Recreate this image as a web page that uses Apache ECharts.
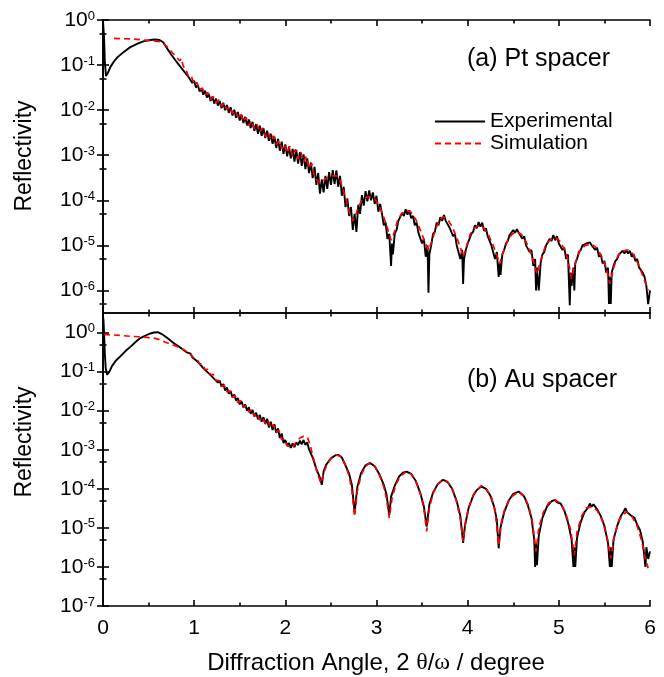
<!DOCTYPE html>
<html>
<head>
<meta charset="utf-8">
<script src="https://cdn.jsdelivr.net/npm/echarts@6/dist/echarts.min.js"></script>
<style>
html,body{margin:0;padding:0;background:#fff;}
#chart{width:664px;height:677px;}
</style>
</head>
<body>
<div id="chart"></div>
<script>
// ---------- DATA (angle in degrees, reflectivity) ----------
const xTicks = [0, 1, 2, 3, 4, 5, 6];
const xMinorTicks = [0.5, 1.5, 2.5, 3.5, 4.5, 5.5];
const yTicks = [1e-7, 1e-6, 1e-5, 1e-4, 1e-3, 1e-2, 1e-1, 1];
const yMinorTicks = [5e-8, 5e-7, 5e-6, 5e-5, 5e-4, 5e-3, 5e-2, 0.5];
const panelLabels = ['(a) Pt spacer', '(b) Au spacer'];
const seriesNames = ['Experimental', 'Simulation'];

// (a) Pt spacer, experimental
const expPt = [
[0,0.95],[0.005,0.9],[0.012,0.4],[0.02,0.12],[0.033,0.057],[0.05,0.065],[0.08,0.09],[0.12,0.12],[0.16,0.15],[0.22,0.19],[0.3,0.25],[0.38,0.3],[0.45,0.34],[0.52,0.36],[0.57,0.37],[0.62,0.36],[0.66,0.32],[0.7,0.24],[0.75,0.17],[0.8,0.123],[0.85,0.091],[0.9,0.068],[0.94,0.054],
[0.96,5.4e-2],[0.98,4.0e-2],[1.00,4.5e-2],[1.02,3.2e-2],[1.04,3.6e-2],[1.06,2.6e-2],[1.08,3.0e-2],[1.10,2.2e-2],[1.12,2.7e-2],[1.14,1.9e-2],[1.16,2.3e-2],[1.18,1.6e-2],[1.20,2.0e-2],[1.22,1.4e-2],[1.24,1.8e-2],[1.26,1.26e-2],[1.28,1.6e-2],[1.30,1.1e-2],[1.32,1.45e-2],[1.34,1.0e-2],[1.36,1.3e-2],[1.38,8.7e-3],[1.40,1.17e-2],[1.42,7.6e-3],[1.44,1.02e-2],[1.46,6.8e-3],[1.48,9.1e-3],[1.50,5.9e-3],[1.52,7.9e-3],[1.54,5.2e-3],[1.56,7.1e-3],[1.58,4.6e-3],[1.60,6.2e-3],[1.62,4.0e-3],[1.64,5.5e-3],[1.66,3.5e-3],[1.68,4.9e-3],[1.70,3.0e-3],[1.72,4.5e-3],[1.74,2.7e-3],[1.76,4.0e-3],[1.78,2.4e-3],[1.80,3.5e-3],[1.82,2.1e-3],[1.84,3.0e-3],[1.86,1.8e-3],[1.88,2.6e-3],[1.90,1.45e-3],[1.92,2.3e-3],[1.94,1.26e-3],[1.96,2.0e-3],[1.98,1.07e-3],[2.00,1.74e-3],[2.02,9.5e-4],[2.04,1.55e-3],[2.06,8.5e-4],[2.08,1.38e-3],[2.10,7.2e-4],[2.12,1.32e-3],[2.14,6.5e-4],[2.16,1.17e-3],[2.18,5.8e-4],[2.20,1.05e-3],[2.22,4.9e-4],[2.24,8.5e-4],[2.26,4.0e-4],[2.28,6.9e-4],[2.30,3.1e-4],[2.32,5.5e-4],[2.34,2.2e-4],[2.36,4.0e-4],[2.38,1.4e-4],[2.40,2.9e-4],[2.42,1.5e-4],[2.44,3.5e-4],[2.46,1.8e-4],[2.48,4.2e-4],[2.50,2.2e-4],[2.52,4.7e-4],[2.54,2.3e-4],[2.56,4.6e-4],[2.58,2.0e-4],[2.60,3.5e-4],[2.62,1.26e-4],[2.64,2.0e-4],[2.66,7.1e-5],[2.68,1.1e-4],[2.70,4.5e-5],[2.72,7.1e-5],[2.74,2.2e-5],[2.76,5.0e-5],[2.78,2.0e-5],[2.80,7.9e-5],[2.82,5.0e-5],[2.84,1.3e-4],[2.86,7.6e-5],[2.88,1.6e-4],[2.90,9.5e-5],[2.92,1.66e-4],[2.94,1.0e-4],[2.96,1.5e-4],[2.98,8.3e-5],[3.00,1.26e-4],[3.02,5.6e-5],[3.04,8.3e-5],
[3.06,5.0e-5],[3.08,2.8e-5],[3.10,3.2e-5],[3.12,1.4e-5],[3.14,1.8e-5],[3.16,3.5e-6],[3.17,1.1e-5],[3.18,6.3e-6],[3.20,1.8e-5],[3.22,2.2e-5],[3.24,3.5e-5],[3.26,3.2e-5],[3.28,5.2e-5],[3.30,4.5e-5],[3.32,6.3e-5],[3.34,4.8e-5],[3.36,6.0e-5],[3.38,4.0e-5],[3.40,4.5e-5],[3.42,2.8e-5],[3.44,3.2e-5],[3.46,1.9e-5],[3.48,2.0e-5],[3.50,1.1e-5],[3.52,1.4e-5],[3.54,5.6e-6],[3.56,1.0e-5],[3.57,8.9e-7],[3.58,6.3e-6],[3.60,1.0e-5],[3.62,1.8e-5],[3.64,2.0e-5],[3.66,3.2e-5],[3.68,2.8e-5],[3.70,4.2e-5],[3.72,3.5e-5],[3.74,4.7e-5],[3.76,3.5e-5],[3.78,3.8e-5],[3.80,2.5e-5],[3.82,2.6e-5],[3.84,1.6e-5],[3.86,1.8e-5],[3.88,1.0e-5],[3.90,1.1e-5],[3.92,5.0e-6],[3.94,7.9e-6],[3.95,1.4e-6],[3.96,5.0e-6],[3.98,7.9e-6],[4.00,1.1e-5],[4.02,1.4e-5],[4.04,1.8e-5],[4.06,2.0e-5],[4.08,2.8e-5],[4.10,2.4e-5],[4.12,3.3e-5],[4.14,2.6e-5],[4.16,3.2e-5],[4.18,2.1e-5],[4.20,2.4e-5],[4.22,1.6e-5],[4.24,1.7e-5],[4.26,1.0e-5],[4.28,1.1e-5],[4.30,5.0e-6],[4.32,7.1e-6],[4.34,2.0e-6],[4.35,4.0e-6],[4.36,2.2e-6],[4.38,6.3e-6],[4.40,7.9e-6],[4.42,1.1e-5],[4.44,1.26e-5],[4.46,1.7e-5],[4.48,1.6e-5],[4.50,2.2e-5],[4.52,1.9e-5],[4.54,2.3e-5],[4.56,1.9e-5],[4.58,2.1e-5],[4.60,1.4e-5],[4.62,1.6e-5],[4.64,1.0e-5],[4.66,1.1e-5],[4.68,7.1e-6],[4.70,7.9e-6],[4.72,3.5e-6],[4.74,5.0e-6],[4.75,1.0e-6],[4.76,3.2e-6],[4.78,1.0e-6],[4.80,4.0e-6],[4.82,6.3e-6],[4.84,7.1e-6],[4.86,1.0e-5],[4.88,1.05e-5],[4.90,1.4e-5],[4.92,1.26e-5],[4.94,1.7e-5],[4.96,1.3e-5],[4.98,1.6e-5],[5.00,1.1e-5],[5.02,1.2e-5],[5.04,7.9e-6],[5.06,8.9e-6],[5.08,5.0e-6],[5.10,6.3e-6],[5.12,4.7e-7],[5.13,2.5e-6],[5.14,1.26e-6],[5.16,3.2e-6],[5.17,1.0e-6],[5.18,4.0e-6],[5.20,5.0e-6],[5.22,7.1e-6],[5.24,7.9e-6],[5.26,1.0e-5],[5.28,9.5e-6],[5.30,1.1e-5],[5.32,1.0e-5],[5.34,1.17e-5],[5.36,1.0e-5],[5.38,1.1e-5],[5.40,7.9e-6],[5.42,8.9e-6],[5.44,5.6e-6],[5.46,6.3e-6],[5.48,4.0e-6],[5.50,4.5e-6],[5.52,2.5e-6],[5.54,3.2e-6],[5.55,5.0e-7],[5.56,2.0e-6],[5.57,5.0e-7],[5.58,2.5e-6],[5.60,3.5e-6],[5.62,4.5e-6],[5.64,5.0e-6],[5.66,6.3e-6],[5.68,6.0e-6],[5.70,7.6e-6],[5.72,6.6e-6],[5.74,7.8e-6],[5.76,6.6e-6],[5.78,7.6e-6],[5.80,5.6e-6],[5.82,6.3e-6],[5.84,4.5e-6],[5.86,5.0e-6],[5.88,3.2e-6],[5.90,3.5e-6],[5.92,2.5e-6],[5.94,2.0e-6],[5.96,1.26e-6],[5.98,5.0e-7],[6.00,1.0e-6]
];

// (a) Pt spacer, simulation
const simPt = [
[0.12,0.39],[0.3,0.38],[0.45,0.36],[0.55,0.345],[0.62,0.33],[0.66,0.30],[0.70,0.26],[0.75,0.20],[0.80,0.155],[0.84,0.125],[0.86,0.14],[0.88,0.095],
[0.91,7.9e-2],[0.94,5.4e-2],[0.97,5.6e-2],[1.00,3.7e-2],[1.03,4.1e-2],[1.06,2.8e-2],[1.09,3.1e-2],[1.12,2.2e-2],[1.15,2.45e-2],[1.18,1.74e-2],[1.21,2.0e-2],[1.24,1.45e-2],[1.27,1.7e-2],[1.30,1.23e-2],[1.33,1.41e-2],[1.36,1.02e-2],[1.39,1.17e-2],[1.42,8.5e-3],[1.45,9.8e-3],[1.48,7.1e-3],[1.51,8.5e-3],[1.54,5.5e-3],[1.57,6.9e-3],[1.60,4.6e-3],[1.63,5.8e-3],[1.66,3.8e-3],[1.69,4.8e-3],[1.72,3.2e-3],[1.75,4.0e-3],[1.78,2.6e-3],[1.81,3.3e-3],[1.84,2.2e-3],[1.87,2.7e-3],[1.90,1.74e-3],[1.93,2.1e-3],[1.96,1.41e-3],[1.99,1.74e-3],[2.02,1.12e-3],[2.05,1.58e-3],[2.08,9.5e-4],[2.11,1.35e-3],[2.14,8.3e-4],[2.17,1.17e-3],[2.20,7.2e-4],[2.23,9.3e-4],[2.26,5.1e-4],[2.29,6.6e-4],[2.32,3.2e-4],[2.35,2.8e-4],[2.38,2.4e-4],[2.41,2.6e-4],[2.44,3.0e-4],[2.48,3.4e-4],[2.52,3.5e-4],[2.56,3.5e-4],[2.60,2.8e-4],[2.64,1.6e-4],[2.68,7.9e-5],[2.71,5.0e-5],[2.74,3.5e-5],[2.77,4.5e-5],[2.80,7.1e-5],[2.84,1.0e-4],[2.88,1.17e-4],[2.93,1.2e-4],[2.98,1.07e-4],
[3.03,7.6e-5],[3.08,4.2e-5],[3.12,2.4e-5],[3.16,1.3e-5],[3.19,1.8e-5],[3.23,3.5e-5],[3.28,5.2e-5],[3.33,6.0e-5],[3.38,5.4e-5],[3.43,3.8e-5],[3.48,2.2e-5],[3.53,1.2e-5],[3.57,7.8e-6],[3.61,1.26e-5],[3.65,2.4e-5],[3.69,3.5e-5],[3.73,4.3e-5],[3.78,3.8e-5],[3.83,2.6e-5],[3.88,1.5e-5],[3.92,8.9e-6],[3.95,5.5e-6],[3.99,1.0e-5],[4.03,1.8e-5],[4.08,2.5e-5],[4.13,2.75e-5],[4.18,2.4e-5],[4.23,1.66e-5],[4.28,1.0e-5],[4.32,6.0e-6],[4.35,3.9e-6],[4.39,7.1e-6],[4.44,1.3e-5],[4.49,1.8e-5],[4.54,2.0e-5],[4.59,1.74e-5],[4.64,1.2e-5],[4.69,7.1e-6],[4.73,4.0e-6],[4.76,2.3e-6],[4.80,4.5e-6],[4.85,9.5e-6],[4.90,1.3e-5],[4.96,1.5e-5],[5.01,1.26e-5],[5.06,8.3e-6],[5.10,4.8e-6],[5.14,1.8e-6],[5.18,4.0e-6],[5.23,7.6e-6],[5.29,1.0e-5],[5.36,1.05e-5],[5.42,8.7e-6],[5.47,5.6e-6],[5.52,3.2e-6],[5.56,1.4e-6],[5.60,3.2e-6],[5.65,6.0e-6],[5.70,7.6e-6],[5.76,7.9e-6],[5.82,6.3e-6],[5.88,3.5e-6],[5.93,1.9e-6],[5.98,1.0e-6]
];

// (b) Au spacer, experimental
const expAu = [
[0,2.6],[0.006,2.0],[0.012,0.9],[0.02,0.3],[0.03,0.12],[0.045,0.083],[0.07,0.1],[0.1,0.14],[0.14,0.19],[0.19,0.245],[0.25,0.34],[0.3,0.43],[0.36,0.58],[0.41,0.72],[0.46,0.82],[0.51,0.93],[0.56,1.0],[0.6,1.02],[0.64,0.93],[0.68,0.8],[0.72,0.68],[0.77,0.55],[0.82,0.46],[0.87,0.38],[0.92,0.31],
[0.96,0.29],[0.98,0.23],[1.00,0.245],[1.02,0.195],[1.04,0.20],[1.06,0.158],[1.08,0.162],[1.10,0.123],[1.12,0.138],[1.14,0.10],[1.16,0.112],[1.18,8.1e-2],[1.20,9.1e-2],[1.22,6.5e-2],[1.24,7.2e-2],[1.26,5.2e-2],[1.28,5.9e-2],[1.30,4.1e-2],[1.32,4.8e-2],[1.34,3.3e-2],[1.36,3.9e-2],[1.38,2.7e-2],[1.40,3.2e-2],[1.42,2.2e-2],[1.44,2.6e-2],[1.46,1.8e-2],[1.48,2.1e-2],[1.50,1.45e-2],[1.52,1.74e-2],[1.54,1.2e-2],[1.56,1.45e-2],[1.58,1.0e-2],[1.60,1.23e-2],[1.62,8.3e-3],[1.64,1.05e-2],[1.66,7.1e-3],[1.68,8.9e-3],[1.70,6.0e-3],[1.72,7.8e-3],[1.74,5.2e-3],[1.76,6.8e-3],[1.78,4.6e-3],[1.80,6.2e-3],[1.82,3.7e-3],[1.84,5.2e-3],[1.86,3.2e-3],[1.88,4.5e-3],[1.90,2.7e-3],[1.92,3.5e-3],[1.94,2.0e-3],[1.96,2.6e-3],[1.98,1.48e-3],[2.00,1.78e-3],[2.02,1.29e-3],[2.04,1.48e-3],[2.06,1.12e-3],[2.08,1.45e-3],[2.10,1.17e-3],[2.12,1.55e-3],[2.14,1.32e-3],[2.16,1.7e-3],[2.18,1.38e-3],[2.20,1.78e-3],[2.22,1.32e-3],[2.24,1.55e-3],[2.26,1.02e-3],[2.28,1.0e-3],[2.30,6.3e-4],[2.32,4.6e-4],[2.34,3.2e-4],[2.36,2.5e-4],[2.38,1.9e-4],[2.40,1.26e-4],[2.42,2.8e-4],[2.45,4.2e-4],[2.50,6.0e-4],[2.55,7.2e-4],[2.58,7.4e-4],[2.62,6.3e-4],[2.66,4.0e-4],[2.70,2.4e-4],[2.73,1.26e-4],[2.76,2.5e-5],[2.79,1.12e-4],[2.83,2.5e-4],[2.88,4.0e-4],[2.93,4.6e-4],[2.98,3.8e-4],
[3.03,2.4e-4],[3.08,1.26e-4],[3.11,7.1e-5],[3.14,2.1e-5],[3.16,6.3e-5],[3.20,1.2e-4],[3.25,2.1e-4],[3.29,2.6e-4],[3.33,2.75e-4],[3.38,2.4e-4],[3.43,1.6e-4],[3.48,7.9e-5],[3.52,3.5e-5],[3.55,1.07e-5],[3.58,4.0e-5],[3.62,7.9e-5],[3.67,1.3e-4],[3.73,1.7e-4],[3.78,1.5e-4],[3.83,1.0e-4],[3.88,4.8e-5],[3.92,2.0e-5],[3.95,4.1e-6],[3.97,1.12e-5],[4.01,3.2e-5],[4.06,6.6e-5],[4.10,9.3e-5],[4.15,1.15e-4],[4.20,1.0e-4],[4.25,6.6e-5],[4.29,3.5e-5],[4.32,1.6e-5],[4.34,3.0e-6],[4.36,1.0e-5],[4.40,2.5e-5],[4.45,5.0e-5],[4.50,7.4e-5],[4.56,8.5e-5],[4.58,7.6e-5],[4.62,6.3e-5],[4.66,3.8e-5],[4.70,1.8e-5],[4.73,5.0e-6],[4.74,1.0e-6],[4.75,4.0e-6],[4.76,1.1e-6],[4.78,6.3e-6],[4.82,1.8e-5],[4.87,3.5e-5],[4.92,4.8e-5],[4.96,5.2e-5],[4.98,4.5e-5],[5.02,4.2e-5],[5.06,2.8e-5],[5.10,1.4e-5],[5.14,5.0e-6],[5.16,1.0e-6],[5.17,3.2e-6],[5.18,1.0e-6],[5.20,5.6e-6],[5.24,1.4e-5],[5.28,2.5e-5],[5.32,3.3e-5],[5.34,4.2e-5],[5.36,3.5e-5],[5.38,4.0e-5],[5.42,3.0e-5],[5.46,2.0e-5],[5.50,1.12e-5],[5.54,4.0e-6],[5.56,1.0e-6],[5.57,3.2e-6],[5.58,1.0e-6],[5.60,5.0e-6],[5.64,1.12e-5],[5.68,2.0e-5],[5.71,2.6e-5],[5.73,3.2e-5],[5.75,2.5e-5],[5.77,2.8e-5],[5.80,2.0e-5],[5.83,1.8e-5],[5.86,1.2e-5],[5.89,8.9e-6],[5.92,4.5e-6],[5.95,1.0e-6],[5.96,3.2e-6],[5.98,1.6e-6],[6.00,2.5e-6]
];

// (b) Au spacer, simulation
const simAu = [
[0.01,0.89],[0.1,0.87],[0.2,0.84],[0.3,0.8],[0.4,0.78],[0.5,0.74],[0.56,0.72],[0.62,0.66],[0.7,0.55],[0.77,0.48],[0.83,0.42],[0.88,0.37],[0.93,0.31],
[0.97,0.26],[1.00,0.22],[1.03,0.21],[1.06,0.158],[1.09,0.155],[1.12,0.112],[1.15,0.115],[1.18,8.3e-2],[1.21,8.5e-2],[1.24,5.9e-2],[1.27,6.0e-2],[1.30,4.2e-2],[1.33,4.5e-2],[1.36,3.0e-2],[1.39,3.2e-2],[1.42,2.2e-2],[1.45,2.4e-2],[1.48,1.6e-2],[1.51,1.8e-2],[1.54,1.23e-2],[1.57,1.35e-2],[1.60,9.1e-3],[1.63,1.07e-2],[1.66,7.2e-3],[1.69,8.5e-3],[1.72,5.8e-3],[1.75,6.8e-3],[1.78,4.6e-3],[1.81,5.6e-3],[1.84,3.6e-3],[1.87,4.4e-3],[1.90,2.8e-3],[1.93,3.1e-3],[1.96,1.8e-3],[1.99,1.9e-3],[2.02,1.26e-3],[2.05,1.2e-3],[2.08,1.12e-3],[2.12,1.58e-3],[2.16,2.0e-3],[2.20,2.2e-3],[2.24,2.1e-3],[2.27,1.41e-3],[2.30,7.1e-4],[2.33,3.8e-4],[2.36,2.2e-4],[2.39,1.4e-4],[2.42,2.5e-4],[2.46,4.4e-4],[2.51,6.3e-4],[2.56,7.4e-4],[2.61,6.6e-4],[2.66,4.0e-4],[2.70,2.1e-4],[2.73,8.9e-5],[2.76,1.95e-5],[2.79,8.9e-5],[2.83,2.2e-4],[2.88,3.8e-4],[2.93,4.6e-4],[2.98,3.8e-4],
[3.03,2.3e-4],[3.08,1.12e-4],[3.11,5.6e-5],[3.14,1.8e-5],[3.17,5.6e-5],[3.21,1.26e-4],[3.26,2.1e-4],[3.33,2.75e-4],[3.39,2.3e-4],[3.44,1.4e-4],[3.48,7.6e-5],[3.52,3.2e-5],[3.55,8.1e-6],[3.58,3.2e-5],[3.62,7.6e-5],[3.67,1.3e-4],[3.73,1.7e-4],[3.79,1.4e-4],[3.84,8.9e-5],[3.88,4.5e-5],[3.92,1.66e-5],[3.95,4.5e-6],[3.98,1.6e-5],[4.02,3.8e-5],[4.07,7.6e-5],[4.15,1.2e-4],[4.21,9.5e-5],[4.26,6.0e-5],[4.30,2.8e-5],[4.34,3.6e-6],[4.37,1.4e-5],[4.41,3.2e-5],[4.47,6.0e-5],[4.56,8.5e-5],[4.62,6.6e-5],[4.67,3.5e-5],[4.71,1.4e-5],[4.75,2.5e-6],[4.78,1.0e-5],[4.83,2.5e-5],[4.89,4.4e-5],[4.96,5.2e-5],[5.02,4.2e-5],[5.08,2.2e-5],[5.13,8.9e-6],[5.17,2.0e-6],[5.20,7.9e-6],[5.25,2.0e-5],[5.30,3.2e-5],[5.36,3.5e-5],[5.42,2.8e-5],[5.48,1.5e-5],[5.53,5.6e-6],[5.57,1.66e-6],[5.61,6.3e-6],[5.66,1.6e-5],[5.74,2.6e-5],[5.80,2.0e-5],[5.86,1.12e-5],[5.91,4.5e-6],[5.95,1.6e-6],[5.98,9.3e-7]
];

// ---------- CHART ----------
const FONT = '"Liberation Sans", Arial, sans-serif';
const SERIF = '"Liberation Serif", "DejaVu Serif", serif';
const BLACK = '#000';
const chart = echarts.init(document.getElementById('chart'), null, {renderer: 'canvas'});

const grids = [
  {left: 103, top: 20, width: 547, height: 293, outerBoundsMode: 'none', containLabel: false},
  {left: 103, top: 313, width: 547, height: 293, outerBoundsMode: 'none', containLabel: false}
];
const yRange = [[Math.pow(10, -6.5), 1], [1e-7, Math.pow(10, 0.5)]];

function powLabel(v) {
  const e = Math.log10(v);
  const r = Math.round(e);
  if (Math.abs(e - r) > 1e-6) return '';
  return '10{sup|' + r + '}';
}

function xAxis(gi, pos, labels, minor) {
  return {
    type: 'value', gridIndex: gi, position: pos, min: 0, max: 6, interval: 1,
    axisLine: {show: !minor, lineStyle: {color: BLACK, width: 1.7}},
    axisTick: {show: true, inside: true, length: minor ? 3.5 : 6,
      customValues: minor ? xMinorTicks : xTicks,
      lineStyle: {color: BLACK, width: 1.6}},
    axisLabel: {show: labels, margin: 12, color: BLACK, fontSize: 21, fontFamily: FONT,
      customValues: xTicks},
    splitLine: {show: false}
  };
}
function yAxis(gi, pos, labels, minor) {
  const lo = yRange[gi][0], hi = yRange[gi][1];
  const inRange = arr => arr.filter(v => v >= lo * 0.999 && v <= hi * 1.001);
  return {
    type: 'log', logBase: 10, gridIndex: gi, position: pos, min: lo, max: hi,
    axisLine: {show: !minor, lineStyle: {color: BLACK, width: 1.7}},
    axisTick: {show: true, inside: true, length: minor ? 3.5 : 6,
      customValues: inRange(minor ? yMinorTicks : yTicks),
      lineStyle: {color: BLACK, width: 1.6}},
    axisLabel: {show: labels, margin: 8, color: BLACK, fontSize: 21, fontFamily: FONT,
      customValues: inRange(yTicks),
      formatter: powLabel,
      rich: {sup: {fontSize: 13, fontFamily: FONT, color: BLACK, verticalAlign: 'top', lineHeight: 12}}},
    splitLine: {show: false}
  };
}

const option = {
  animation: false,
  backgroundColor: '#fff',
  grid: grids,
  xAxis: [
    xAxis(0, 'bottom', false, false), xAxis(0, 'top', false, false),
    xAxis(1, 'bottom', true, false), xAxis(1, 'top', false, false),
    xAxis(0, 'bottom', false, true), xAxis(0, 'top', false, true),
    xAxis(1, 'bottom', false, true), xAxis(1, 'top', false, true)
  ],
  yAxis: [
    yAxis(0, 'left', true, false), yAxis(0, 'right', false, false),
    yAxis(0, 'left', false, true), yAxis(0, 'right', false, true),
    yAxis(1, 'left', true, false), yAxis(1, 'right', false, false),
    yAxis(1, 'left', false, true), yAxis(1, 'right', false, true)
  ],
  legend: {
    left: 434, top: 111, orient: 'vertical', itemWidth: 50, itemHeight: 14, itemGap: 1,
    padding: 0, selectedMode: false,
    itemStyle: {opacity: 0},
    textStyle: {fontSize: 21, fontFamily: FONT, color: BLACK},
    data: seriesNames
  },
  series: [
    {name: seriesNames[0], type: 'line', xAxisIndex: 0, yAxisIndex: 0, data: expPt, symbol: 'none',
      lineStyle: {color: BLACK, width: 1.9}, itemStyle: {color: BLACK}, z: 2},
    {name: seriesNames[1], type: 'line', xAxisIndex: 0, yAxisIndex: 0, data: simPt, symbol: 'none',
      lineStyle: {color: '#ff0000', width: 1.7, type: [6, 4]}, itemStyle: {color: '#ff0000'}, z: 3},
    {name: seriesNames[0], type: 'line', xAxisIndex: 2, yAxisIndex: 4, data: expAu, symbol: 'none',
      lineStyle: {color: BLACK, width: 1.9}, itemStyle: {color: BLACK}, z: 2},
    {name: seriesNames[1], type: 'line', xAxisIndex: 2, yAxisIndex: 4, data: simAu, symbol: 'none',
      lineStyle: {color: '#ff0000', width: 1.7, type: [6, 4]}, itemStyle: {color: '#ff0000'}, z: 3}
  ],
  graphic: [
    {type: 'text', left: 467, top: 47, style: {text: panelLabels[0], fontSize: 25, fontFamily: FONT, fill: BLACK}},
    {type: 'text', left: 467, top: 368, style: {text: panelLabels[1], fontSize: 25, fontFamily: FONT, fill: BLACK}},
    {type: 'text', x: 25, y: 156, rotation: Math.PI / 2,
      style: {text: 'Reflectivity', fontSize: 23, fontFamily: FONT, fill: BLACK, align: 'center', verticalAlign: 'middle'}},
    {type: 'text', x: 25, y: 442, rotation: Math.PI / 2,
      style: {text: 'Reflectivity', fontSize: 23, fontFamily: FONT, fill: BLACK, align: 'center', verticalAlign: 'middle'}},
    {type: 'text', x: 376, y: 663,
      style: {text: 'Diffraction Angle, 2 {g|\u03b8}/{g|\u03c9} / degree', fontSize: 24, fontFamily: FONT, fill: BLACK, align: 'center', verticalAlign: 'middle',
        rich: {g: {fontSize: 24, fontFamily: SERIF, fill: BLACK}}}}
  ]
};
chart.setOption(option);
</script>
</body>
</html>
